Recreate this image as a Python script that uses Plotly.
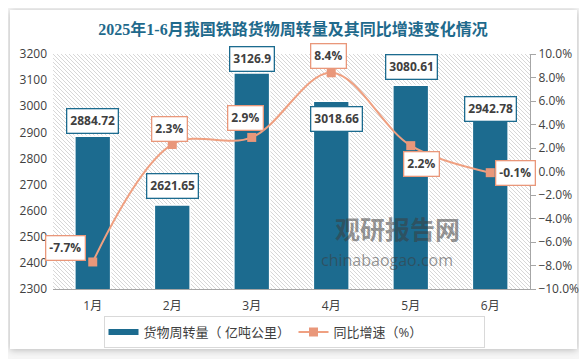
import base64
import plotly.graph_objects as go

# ---- data ----
months = ['1月', '2月', '3月', '4月', '5月', '6月']
turnover = [2884.72, 2621.65, 3126.9, 3018.66, 3080.61, 2942.78]   # 亿吨公里
growth = [-7.7, 2.3, 2.9, 8.4, 2.2, -0.1]                          # %

title_text = '2025年1-6月我国铁路货物周转量及其同比增速变化情况'
bar_name = '货物周转量（ 亿吨公里）'
line_name = '同比增速（%）'

# ---- label offsets (pixels) ----
bar_label_shift = [(0, 15), (0, 19), (0, 14), (5, -18), (1, 18), (0, 12)]
line_label_shift = [(-27, 14), (-3, 15), (-6, 19), (-3, 17), (11, -18), (25, 0)]

OFF = 8  # page body margin compensation
W, H = 587, 359
L, R, T, B = 53 - OFF, 57 + OFF, 54 - OFF, 70 + OFF
PW, PH = W - L - R, H - T - B

BAR_C = '#1C6B8F'
LINE_C = '#EFA081'
MARK_C = '#E9977A'
TXT = '#404040'
FONT = 'Open Sans, Noto Sans CJK SC'

x = list(range(len(months)))

fig = go.Figure()
fig.add_trace(go.Bar(
    x=x, y=turnover, name=bar_name, width=0.45, showlegend=False, legendgroup='bar',
    marker=dict(color=BAR_C, line=dict(color='white', width=1.5)),
    yaxis='y'))
# legend-only entry imitating the flat bar swatch
fig.add_trace(go.Scatter(
    x=[None], y=[None], name=bar_name, mode='lines', legendgroup='bar',
    line=dict(color=BAR_C, width=6), hoverinfo='skip'))
fig.add_trace(go.Scatter(
    x=x, y=growth, name=line_name, yaxis='y2', mode='lines+markers',
    line=dict(color=LINE_C, width=2, shape='spline'),
    marker=dict(symbol='square', size=9, color=MARK_C)))

ann = []
for i, v in enumerate(turnover):
    dx, dy = bar_label_shift[i]
    ann.append(dict(x=x[i], y=v, xref='x', yref='y', text=f'<b>{v:g}</b>',
                    showarrow=False, xshift=dx, yshift=dy,
                    font=dict(size=12, color=TXT, family=FONT),
                    bgcolor='white', bordercolor=BAR_C, borderwidth=1.3, borderpad=3))
for i, v in enumerate(growth):
    dx, dy = line_label_shift[i]
    ann.append(dict(x=x[i], y=v, xref='x', yref='y2', text=f'<b>{v:.1f}%</b>',
                    showarrow=False, xshift=dx, yshift=dy,
                    font=dict(size=12, color=TXT, family=FONT),
                    bgcolor='white', bordercolor=MARK_C, borderwidth=1.3, borderpad=3))
# watermark
ann.append(dict(x=(462 - 53) / PW, y=(289 - 248) / PH, xref='paper', yref='paper',
                text='<b>观研报告网</b>', showarrow=False,
                font=dict(size=25, color='rgba(60,60,60,0.55)', family='Noto Sans CJK SC')))
ann.append(dict(x=(455 - 53) / PW, y=(289 - 273) / PH, xref='paper', yref='paper',
                text='chinabaogao.com', showarrow=False,
                font=dict(size=16, color='rgba(60,60,60,0.55)', family='Open Sans')))

# background card with soft shadow (figure pixel coordinates)
cx, cy, cw, ch = 10 - OFF, 10 - OFF, 567, 339
card_svg = f'''<svg xmlns="http://www.w3.org/2000/svg" width="{W}" height="{H}" viewBox="0 0 {W} {H}" preserveAspectRatio="none">
<defs><filter id="s" x="-10%" y="-10%" width="120%" height="120%"><feGaussianBlur stdDeviation="3.5"/></filter></defs>
<rect width="{W}" height="{H}" fill="#f6f6f6"/>
<rect x="{cx}" y="{cy + 1}" width="{cw}" height="{ch}" fill="#b8b8b8" filter="url(#s)"/>
<rect x="{cx}" y="{cy}" width="{cw}" height="{ch}" fill="#ffffff"/>
</svg>'''
hatch_svg = f'''<svg xmlns="http://www.w3.org/2000/svg" width="{PW}" height="{PH}" viewBox="0 0 {PW} {PH}" preserveAspectRatio="none">
<defs><pattern id="p" patternUnits="userSpaceOnUse" width="4" height="4">
<path d="M-1,-1 L5,5 M-1,3 L1,5 M3,-1 L5,1" stroke="#d2d2d2" stroke-width="0.9"/></pattern></defs>
<rect width="{PW}" height="{PH}" fill="white"/>
<rect width="{PW}" height="{PH}" fill="url(#p)"/>
</svg>'''


def uri(s):
    return 'data:image/svg+xml;base64,' + base64.b64encode(s.encode()).decode()


images = [
    dict(source=uri(card_svg), xref='paper', yref='paper', x=-L / PW, y=1 + T / PH,
         sizex=W / PW, sizey=H / PH, sizing='stretch', layer='below', xanchor='left', yanchor='top'),
    dict(source=uri(hatch_svg), xref='paper', yref='paper', x=0, y=1,
         sizex=1, sizey=1, sizing='stretch', layer='below', xanchor='left', yanchor='top'),
]

fig.update_layout(
    width=W, height=H,
    margin=dict(l=L, r=R, t=T, b=B),
    paper_bgcolor='white', plot_bgcolor='rgba(0,0,0,0)',
    font=dict(family=FONT, color=TXT, size=12),
    title=dict(text=f'<b>{title_text}</b>', x=(293 - OFF) / W, xref='container', xanchor='center',
               y=1 - (29 - OFF) / H, yanchor='middle',
               font=dict(size=16, color='#1F6A8C', family='Liberation Serif, Noto Sans CJK SC')),
    xaxis=dict(range=[-0.5, 5.5], tickvals=x, ticktext=months, showgrid=False, zeroline=False,
               showline=True, linecolor='#a6a6a6', linewidth=1, ticks='', ticklabelstandoff=6,
               tickfont=dict(size=12, color=TXT, family=FONT)),
    yaxis=dict(range=[2300, 3200], dtick=100, showgrid=False, zeroline=False, showline=False,
               ticks='', ticklabelstandoff=5, tickfont=dict(size=12, color=TXT, family=FONT)),
    yaxis2=dict(range=[-10, 10], dtick=2, overlaying='y', side='right', showgrid=False, zeroline=False,
                showline=True, linecolor='#a6a6a6', linewidth=1, ticks='outside', ticklen=5,
                tickcolor='#a6a6a6', tickformat='.1f', ticksuffix='%',
                tickfont=dict(size=12, color=TXT, family=FONT)),
    legend=dict(orientation='h', x=(294 - 53) / PW, xanchor='center', y=(289 - 316) / PH, yanchor='top',
                bordercolor='#d9d9d9', borderwidth=1, bgcolor='white', itemwidth=30,
                entrywidth=145, font=dict(size=13, color=TXT, family=FONT)),
    annotations=ann,
    images=images,
    showlegend=True,
)

fig.write_html('out.html')
